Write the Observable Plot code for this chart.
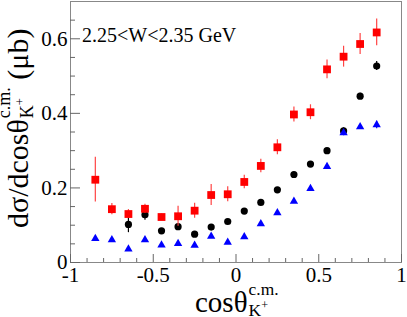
<!DOCTYPE html>
<html><head><meta charset="utf-8">
<script src="https://cdn.jsdelivr.net/npm/d3@7"></script>
<script src="https://cdn.jsdelivr.net/npm/@observablehq/plot@0.6"></script>
<style>body{margin:0;background:#fff} svg{display:block} svg text{font-family:"Liberation Serif",serif}</style>
</head><body><div id="chart"></div>
<script>
// bin centres of cos(theta_K+ c.m.)
const cosTheta = [-0.85,-0.75,-0.65,-0.55,-0.45,-0.35,-0.25,-0.15,-0.05,0.05,0.15,0.25,0.35,0.45,0.55,0.65,0.75,0.85];
// red squares
const redY   = [0.222,0.143,0.130,0.144,0.122,0.124,0.139,0.181,0.183,0.216,0.259,0.309,0.397,0.403,0.518,0.552,0.586,0.617];
const redErr = [0.060,0.015,0.012,0.012,0.008,0.027,0.020,0.028,0.020,0.018,0.018,0.020,0.020,0.020,0.025,0.028,0.028,0.036];
// black circles
const blackY   = [null,null,0.102,0.128,0.085,0.096,0.076,0.095,0.110,0.138,0.161,0.195,0.236,0.264,0.300,0.353,0.446,0.527];
const blackErr = [null,null,0.022,0.015,0.006,0.006,0.005,0.005,0.005,0.005,0.005,0.005,0.006,0.006,0.006,0.008,0.008,0.012];
// blue triangles
const blueY   = [0.064,0.061,0.036,0.061,0.047,0.051,0.046,0.070,0.054,0.069,0.104,0.133,0.164,0.198,0.257,0.348,0.364,0.369];
const blueErr = [0.004,0.004,0.004,0.004,0.004,0.004,0.004,0.004,0.004,0.004,0.004,0.004,0.004,0.005,0.005,0.008,0.006,0.010];

const xMajor = [-1,-0.5,0,0.5,1];
const xMinor = [-0.9,-0.8,-0.7,-0.6,-0.4,-0.3,-0.2,-0.1,0.1,0.2,0.3,0.4,0.6,0.7,0.8,0.9];
const yMajor = [0,0.2,0.4,0.6];
const yMinor = [0.05,0.1,0.15,0.25,0.3,0.35,0.45,0.5,0.55,0.65];
const titleText = "2.25<W<2.35 GeV";

const FONT = "Liberation Serif";
const rows = (ys, es) => cosTheta.map((x,i)=>({x, y: ys[i], e: es[i]})).filter(d => d.y != null);
const red = rows(redY, redErr), black = rows(blackY, blackErr), blue = rows(blueY, blueErr);
const fmt = d => String(d);

const plot = Plot.plot({
  width: 407, height: 317,
  marginLeft: 70, marginRight: 6, marginTop: 1, marginBottom: 55,
  style: {fontFamily: FONT, fontSize: "21px", background: "white", color: "black"},
  x: {domain: [-1, 1]},
  y: {domain: [0, 0.7]},
  marks: [
    Plot.frame({stroke: "#888"}),
    Plot.axisX(xMajor, {tickSize: -8, tickFormat: () => "", label: null, stroke: "#666"}),
    Plot.axisX(xMinor, {tickSize: -4, tickFormat: () => "", label: null, stroke: "#666"}),
    Plot.axisX(xMajor, {tickSize: 0, tickPadding: 5, tickFormat: fmt, label: null, fontSize: 21, fontFamily: FONT, fill: "black"}),
    Plot.axisY(yMajor, {tickSize: -10, tickFormat: () => "", label: null, stroke: "#666"}),
    Plot.axisY(yMinor, {tickSize: -5, tickFormat: () => "", label: null, stroke: "#666"}),
    Plot.axisY(yMajor, {tickSize: 0, tickPadding: 3, tickFormat: fmt, label: null, fontSize: 21, fontFamily: FONT, fill: "black"}),
    Plot.ruleX(black, {x: "x", y1: d => d.y - d.e, y2: d => d.y + d.e, stroke: "black", strokeWidth: 1.2}),
    Plot.dot(black, {x: "x", y: "y", symbol: "circle", r: 3.6, fill: "black"}),
    Plot.ruleX(blue, {x: "x", y1: d => d.y - d.e, y2: d => d.y + d.e, stroke: "blue", strokeWidth: 1.2}),
    Plot.dot(blue, {x: "x", y: "y", symbol: "triangle", r: 3.1, fill: "blue"}),
    Plot.ruleX(red, {x: "x", y1: d => d.y - d.e, y2: d => d.y + d.e, stroke: "#f44", strokeWidth: 1.2}),
    Plot.dot(red, {x: "x", y: "y", symbol: "square", r: 4.4, fill: "red"})
  ]
});
document.getElementById("chart").append(plot);

const svg = d3.select(plot);
svg.selectAll("text").style("font-family", `"${FONT}", serif`);
const txt = (g, s, x, y, fs) => g.append("text").attr("x", x).attr("y", y)
    .style("font-size", fs + "px").style("font-family", `"${FONT}", serif`)
    .attr("text-anchor", "start").attr("fill", "black").text(s);
function richTitle(g, size, main, sup, sub, subSup, tail) {
  const small = size * 0.6;
  let x = txt(g, main, 0, 0, size).node().getComputedTextLength();
  const w1 = txt(g, sup, x + 1, -size * 0.6, small).node().getComputedTextLength();
  const w2 = txt(g, sub, x + 1, size * 0.15, small).node().getComputedTextLength();
  const w3 = txt(g, subSup, x + 1 + w2, size * 0.15 - small * 0.45, small * 0.7).node().getComputedTextLength();
  x += 1 + Math.max(w1, w2 + w3);
  if (tail) {
    x += size * 0.25;
    x += txt(g, tail, x, 0, size).node().getComputedTextLength();
  }
  return x;
}
// title
txt(svg, titleText, 82, 42, 20);
// x label
const gx = svg.append("g").attr("transform", "translate(195,312)");
richTitle(gx, 29, "cosθ", "c.m.", "K", "+", null);
// y label
const gy = svg.append("g").attr("transform", "translate(28,228) rotate(-90)");
richTitle(gy, 30, "dσ/dcosθ", "c.m.", "K", "+", "(μb)");
</script></body></html>
